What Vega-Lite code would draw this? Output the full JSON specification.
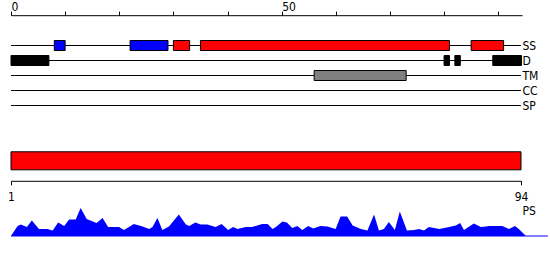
{
  "$schema": "https://vega.github.io/schema/vega-lite/v6.json",
  "padding": {"left": 7, "top": 0, "right": 0, "bottom": 0},
  "bounds": "flush",
  "spacing": 37.8,
  "config": {
    "view": {"stroke": null},
    "font": "DejaVu Sans Condensed, DejaVu Sans",
    "axis": {
      "labelFont": "DejaVu Sans Condensed, DejaVu Sans",
      "labelFontSize": 12,
      "labelColor": "#000000",
      "domainColor": "#000000",
      "tickColor": "#000000",
      "grid": false,
      "titleFont": "DejaVu Sans Condensed, DejaVu Sans",
      "titleFontSize": 12,
      "titleFontWeight": "normal",
      "titleColor": "#000000"
    }
  },
  "datasets": {
    "tracks": [
      {"track": "SS", "start": 0, "end": 94.2},
      {"track": "D", "start": 0, "end": 94.2},
      {"track": "TM", "start": 0, "end": 94.2},
      {"track": "CC", "start": 0, "end": 94.2},
      {"track": "SP", "start": 0, "end": 94.2}
    ],
    "features": [
      {"track": "SS", "kind": "strand", "start": 8, "end": 10},
      {"track": "SS", "kind": "strand", "start": 22, "end": 29},
      {"track": "SS", "kind": "helix", "start": 30, "end": 33},
      {"track": "SS", "kind": "helix", "start": 35, "end": 81},
      {"track": "SS", "kind": "helix", "start": 85, "end": 91},
      {"track": "D", "kind": "disorder", "start": 0, "end": 7},
      {"track": "D", "kind": "disorder", "start": 80, "end": 81},
      {"track": "D", "kind": "disorder", "start": 82, "end": 83},
      {"track": "D", "kind": "disorder", "start": 89, "end": 94.3},
      {"track": "TM", "kind": "tm", "start": 56, "end": 73}
    ],
    "chain": [{"start": 1, "end": 94}],
    "ps": [
      {"pos": 1, "score": 0},
      {"pos": 2.2, "score": 10},
      {"pos": 2.8, "score": 11.5},
      {"pos": 3.9, "score": 9},
      {"pos": 4.8, "score": 15.5},
      {"pos": 6.1, "score": 7},
      {"pos": 7.6, "score": 7},
      {"pos": 8.6, "score": 5.5},
      {"pos": 9.6, "score": 13.5},
      {"pos": 10.7, "score": 10},
      {"pos": 11.6, "score": 16.5},
      {"pos": 12.8, "score": 16.5},
      {"pos": 13.7, "score": 28},
      {"pos": 14.8, "score": 17},
      {"pos": 15.7, "score": 15},
      {"pos": 16.6, "score": 13},
      {"pos": 17.7, "score": 18},
      {"pos": 18.7, "score": 9},
      {"pos": 20.7, "score": 9},
      {"pos": 21.6, "score": 6},
      {"pos": 23.4, "score": 12},
      {"pos": 25.0, "score": 9.5},
      {"pos": 26.2, "score": 7},
      {"pos": 26.8, "score": 9},
      {"pos": 27.7, "score": 18},
      {"pos": 28.6, "score": 6},
      {"pos": 29.8, "score": 9.5},
      {"pos": 31.6, "score": 21.5},
      {"pos": 32.9, "score": 11.5},
      {"pos": 33.5, "score": 10},
      {"pos": 34.6, "score": 13.5},
      {"pos": 35.6, "score": 11.5},
      {"pos": 36.8, "score": 11.5},
      {"pos": 38.3, "score": 9},
      {"pos": 39.4, "score": 12},
      {"pos": 40.6, "score": 6},
      {"pos": 41.5, "score": 9},
      {"pos": 42.3, "score": 7},
      {"pos": 43.8, "score": 9},
      {"pos": 45.0, "score": 9},
      {"pos": 46.8, "score": 12},
      {"pos": 47.8, "score": 12},
      {"pos": 48.7, "score": 7},
      {"pos": 49.3, "score": 9},
      {"pos": 50.5, "score": 14.5},
      {"pos": 51.3, "score": 13.5},
      {"pos": 52.3, "score": 8},
      {"pos": 53.2, "score": 10},
      {"pos": 54.1, "score": 6},
      {"pos": 55.2, "score": 10},
      {"pos": 56.1, "score": 7.5},
      {"pos": 57.4, "score": 10},
      {"pos": 58.7, "score": 9.5},
      {"pos": 60.2, "score": 7},
      {"pos": 61.1, "score": 19.5},
      {"pos": 62.3, "score": 19.5},
      {"pos": 63.3, "score": 10.5},
      {"pos": 64.8, "score": 7},
      {"pos": 66.0, "score": 5.5},
      {"pos": 67.2, "score": 21.5},
      {"pos": 68.1, "score": 5.5},
      {"pos": 69.0, "score": 7},
      {"pos": 69.9, "score": 14},
      {"pos": 71.0, "score": 6},
      {"pos": 71.9, "score": 24.5},
      {"pos": 73.2, "score": 5.5},
      {"pos": 74.5, "score": 6},
      {"pos": 75.4, "score": 7},
      {"pos": 76.3, "score": 5.5},
      {"pos": 77.2, "score": 9},
      {"pos": 79.1, "score": 7},
      {"pos": 80.9, "score": 9},
      {"pos": 82.1, "score": 10.5},
      {"pos": 82.9, "score": 13},
      {"pos": 83.6, "score": 6},
      {"pos": 85.4, "score": 12.5},
      {"pos": 86.7, "score": 9},
      {"pos": 87.6, "score": 9.5},
      {"pos": 88.2, "score": 10},
      {"pos": 90.6, "score": 10},
      {"pos": 91.8, "score": 7},
      {"pos": 92.9, "score": 10},
      {"pos": 93.6, "score": 7},
      {"pos": 94.9, "score": 0}
    ],
    "baseline": [{"from": 1, "to": 98.9, "score": 0}]
  },
  "vconcat": [
    {
      "width": 511,
      "height": 75,
      "layer": [
        {
          "data": {"name": "tracks"},
          "mark": {"type": "rule", "color": "#000000", "strokeWidth": 1},
          "encoding": {
            "y": {
              "field": "track",
              "type": "nominal",
              "sort": null,
              "scale": {"domain": ["SS", "D", "TM", "CC", "SP"], "paddingInner": 0, "paddingOuter": 0},
              "axis": {"orient": "right", "domain": false, "ticks": false, "labelPadding": 0, "labelBaseline": "middle", "title": null}
            },
            "x": {
              "field": "start",
              "type": "quantitative",
              "scale": {"domain": [0, 94.4], "nice": false, "zero": false},
              "axis": {
                "orient": "top",
                "offset": 22.8,
                "values": [0, 10, 20, 30, 40, 50, 60, 70, 80, 90],
                "labelExpr": "datum.value % 50 === 0 ? datum.label : ''",
                "labelAlign": "left",
                "labelBaseline": "alphabetic",
                "labelPadding": 1,
                "labelFlush": false,
                "labelOverlap": false,
                "tickSize": 4,
                "title": null
              }
            },
            "x2": {"field": "end"}
          }
        },
        {
          "data": {"name": "features"},
          "mark": {"type": "bar", "height": 10, "stroke": "#000000", "strokeWidth": 1},
          "encoding": {
            "y": {"field": "track", "type": "nominal"},
            "x": {"field": "start", "type": "quantitative"},
            "x2": {"field": "end"},
            "color": {
              "field": "kind",
              "type": "nominal",
              "scale": {"domain": ["helix", "strand", "disorder", "tm"], "range": ["#ff0000", "#0000ff", "#000000", "#808080"]},
              "legend": null
            }
          }
        }
      ]
    },
    {
      "width": 510,
      "height": 20,
      "data": {"name": "chain"},
      "mark": {"type": "bar", "fill": "#ff0000", "stroke": "#000000", "strokeWidth": 1},
      "encoding": {
        "x": {
          "field": "start",
          "type": "quantitative",
          "scale": {"domain": [1, 94], "nice": false, "zero": false},
          "axis": {
            "orient": "bottom",
            "offset": 10,
            "values": [1, 94],
            "tickSize": 4,
            "labelAlign": "center",
            "labelBaseline": "alphabetic",
            "labelPadding": 15.5,
            "labelFlush": false,
            "labelOverlap": false,
            "title": null
          }
        },
        "x2": {"field": "end"}
      }
    },
    {
      "width": 510,
      "height": 27.4,
      "layer": [
        {
          "data": {"name": "ps"},
          "mark": {"type": "area", "color": "#0000ff", "interpolate": "linear"},
          "encoding": {
            "x": {
              "field": "pos",
              "type": "quantitative",
              "scale": {"domain": [1, 94], "nice": false, "zero": false},
              "axis": null
            },
            "y": {
              "field": "score",
              "type": "quantitative",
              "scale": {"domain": [0, 27.4], "nice": false},
              "axis": {
                "orient": "right",
                "domain": false,
                "ticks": false,
                "labels": false,
                "title": "PS",
                "titleAngle": 0,
                "titleAlign": "left",
                "titleBaseline": "middle",
                "titleX": 1,
                "titleY": 2
              }
            }
          }
        },
        {
          "data": {"name": "baseline"},
          "mark": {"type": "rule", "color": "#0000ff", "strokeWidth": 1},
          "encoding": {
            "x": {"field": "from", "type": "quantitative"},
            "x2": {"field": "to"},
            "y": {"field": "score", "type": "quantitative"}
          }
        }
      ]
    }
  ]
}
